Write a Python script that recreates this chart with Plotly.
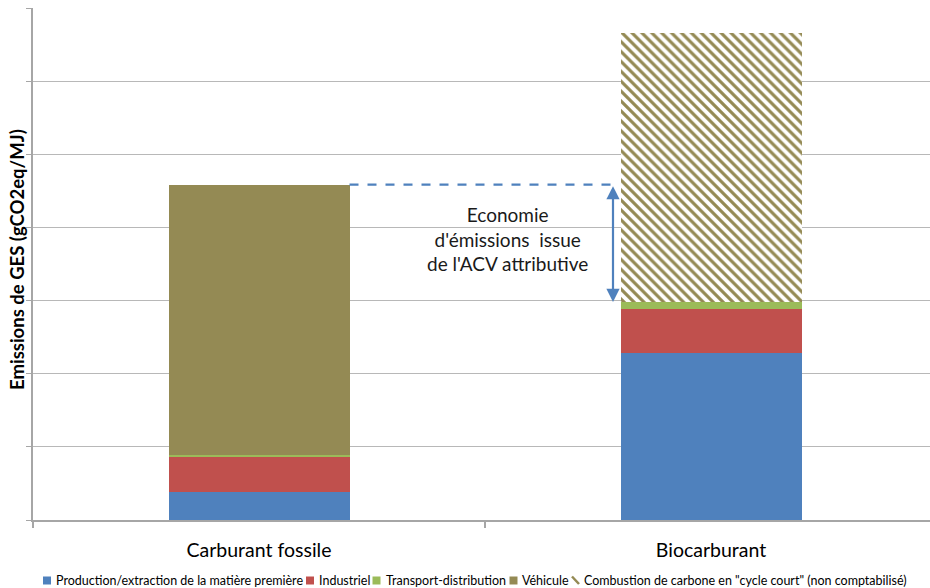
import plotly.graph_objects as go

categories = ["Carburant fossile", "Biocarburant"]
production = [3.8, 22.9]
industriel = [4.9, 5.9]
transport = [0.25, 1.0]
vehicule = [36.9, 0.0]
combustion = [0.0, 36.75]

series_names = [
    "Production/extraction de la matière première",
    "Industriel",
    "Transport-distribution",
    "Véhicule",
    "Combustion de carbone en \"cycle court\" (non comptabilisé)",
]
colors = ["#4F81BD", "#C0504D", "#9BBB59", "#948A54"]

W, H = 930, 588
L, T, B = 33, 8, 68
PW, PH = W - L, H - T - B
xpos = [0, 1]
bar_w = 181 / 452
xmax = (W - L) / 452 - 0.5

font_family = "Lato, 'Open Sans', sans-serif"


def px_x(p):
    return (p - L) / PW


def px_y(p):
    return (T + PH - p) / PH


fig = go.Figure()
for name, vals, col in zip(series_names[:4], [production, industriel, transport, vehicule], colors):
    fig.add_trace(go.Bar(x=xpos, y=vals, name=name, width=bar_w,
                         marker=dict(color=col, line=dict(width=0))))
fig.add_trace(go.Bar(x=xpos, y=combustion, name=series_names[4], width=bar_w,
                     marker=dict(color="white", line=dict(width=0),
                                 pattern=dict(shape="\\", fgcolor="#948A54", bgcolor="white",
                                              size=7, solidity=0.45, fillmode="replace"))))
fig.add_trace(go.Scatter(x=[-0.5], y=[0], xaxis="x2", mode="markers",
                         marker=dict(opacity=0), showlegend=False, hoverinfo="skip"))

fossil_total = production[0] + industriel[0] + transport[0] + vehicule[0]
bio_base = production[1] + industriel[1] + transport[1]
arrow_x = (613 - L) / 452 - 0.5

fig.add_shape(type="line", x0=bar_w / 2, x1=arrow_x, y0=fossil_total, y1=fossil_total,
              line=dict(color="#4F81BD", width=2.2, dash="dash"), layer="above")
fig.add_annotation(x=arrow_x, y=bio_base, ax=arrow_x, ay=fossil_total, xref="x", yref="y",
                   axref="x", ayref="y", text="", showarrow=True, arrowhead=2,
                   arrowside="end+start", arrowsize=1.2, arrowwidth=2.2, arrowcolor="#4F81BD")
fig.add_annotation(x=px_x(507.5), y=px_y(239), xref="paper", yref="paper",
                   text="Economie<br>d'émissions  issue<br>de l'ACV attributive",
                   showarrow=False, font=dict(size=19, color="#1a1a1a", family=font_family),
                   align="center", xanchor="center", yanchor="middle")
fig.add_annotation(x=px_x(17), y=px_y(260), xref="paper", yref="paper",
                   text="<b>Emissions de GES (gCO2eq/MJ)</b>", textangle=-90, showarrow=False,
                   font=dict(size=18.5, color="#000000", family=font_family),
                   xanchor="center", yanchor="middle")

# legend (drawn manually to match the compact spacing of the original)
legend_y = 580.5
legend_items = [
    (43, 54, series_names[0], colors[0], "square"),
    (306, 316.5, series_names[1], colors[1], "square"),
    (372.5, 384, series_names[2], colors[2], "square"),
    (509.5, 520, series_names[3], colors[3], "square"),
    (572, 581.5, series_names[4], colors[3], "hatch"),
]
for sx, tx, label, col, kind in legend_items:
    if kind == "square":
        fig.add_shape(type="rect", xref="paper", yref="paper",
                      x0=px_x(sx), x1=px_x(sx + 8), y0=px_y(legend_y - 4), y1=px_y(legend_y + 4),
                      fillcolor=col, line=dict(width=0))
    else:
        fig.add_shape(type="line", xref="paper", yref="paper",
                      x0=px_x(sx), x1=px_x(sx + 7), y0=px_y(legend_y - 4), y1=px_y(legend_y + 3.5),
                      line=dict(color=col, width=2.5))
    fig.add_annotation(x=px_x(tx), y=px_y(legend_y), xref="paper", yref="paper", text=label,
                       showarrow=False, xanchor="left", yanchor="middle",
                       font=dict(size=12.5, color="#000000", family=font_family))

fig.update_layout(
    width=W, height=H, barmode="stack",
    margin=dict(l=L, r=0, t=T, b=B, autoexpand=False),
    plot_bgcolor="white", paper_bgcolor="white",
    font=dict(family=font_family, color="#000000"),
    showlegend=False,
    xaxis=dict(range=[-0.5, xmax], tickvals=xpos, ticktext=categories, ticks="",
               tickfont=dict(size=19.5, family=font_family, color="#000000"),
               ticklabelstandoff=12,
               showgrid=False, showline=True, linecolor="#A6A6A6", linewidth=1.5,
               zeroline=False, fixedrange=True),
    xaxis2=dict(range=[-0.5, xmax], overlaying="x", side="bottom", tickvals=[-0.5, 0.5],
                ticks="outside", ticklen=7, tickwidth=1.5, tickcolor="#A6A6A6",
                showticklabels=False, showgrid=False, showline=False, zeroline=False),
    yaxis=dict(range=[0, 70], dtick=10, showticklabels=False, ticks="outside", ticklen=5,
               tickwidth=1, tickcolor="#A6A6A6",
               showgrid=True, gridcolor="#B8B8B8", gridwidth=1.2,
               showline=True, linecolor="#A6A6A6", linewidth=1.5, zeroline=False),
)

fig.write_html("out.html", config={"displayModeBar": False},
               post_script="document.body.style.margin='0px';document.body.style.overflow='hidden';")
